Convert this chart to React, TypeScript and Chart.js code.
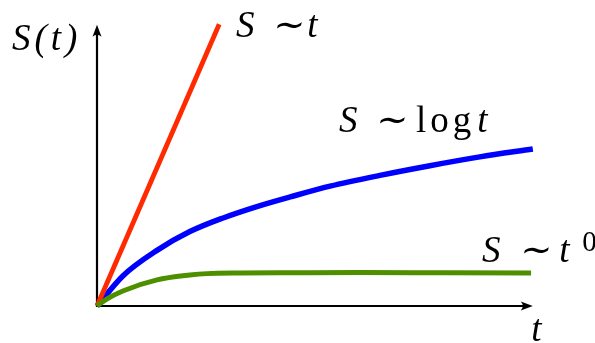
import { useEffect, useRef } from 'react';
import { Chart, registerables } from 'chart.js';

Chart.register(...registerables);

// ---- data (t in 0..100, S in 0..100) ----
const linearT = [0, 27.9];
const linearS = [0, 99.2];

const logT = [0, 5.9, 13.7, 21.2, 28.8, 36.5, 44.1, 53.2, 64.6, 76.0, 87.4, 99.5];
const logS = [0, 10.6, 19.6, 26.2, 31.0, 35.0, 38.4, 42.2, 46.0, 49.4, 52.5, 55.3];

const constT = [0, 2.3, 5.9, 13.7, 21.2, 25.1, 33.0, 44.1, 60.0, 80.0, 99.1];
const constS = [0, 2.5, 5.3, 9.2, 10.9, 11.4, 11.6, 11.7, 11.8, 11.7, 11.6];

const AXIS_T_END = 99.5;
const AXIS_S_END = 99.0;

const toPoints = (xs: number[], ys: number[]) => xs.map((x, i) => ({ x, y: ys[i] }));

type Part = { text: string; x: number; italic?: boolean; size?: number; dy?: number; ls?: number };
type Label = { baseline: number; parts: Part[] };

const LABELS: Label[] = [
  { baseline: 50, parts: [{ text: 'S(t)', x: 12, italic: true, ls: 4 }] },
  {
    baseline: 37,
    parts: [
      { text: 'S \u223C', x: 236, italic: true, ls: 3.5 },
      { text: ' t', x: 298, italic: true },
    ],
  },
  {
    baseline: 132,
    parts: [
      { text: 'S \u223C', x: 339, italic: true, ls: 3.5 },
      { text: 'log', x: 416, ls: 4 },
      { text: ' t', x: 468, italic: true },
    ],
  },
  {
    baseline: 262,
    parts: [
      { text: 'S \u223C', x: 482, italic: true, ls: 4 },
      { text: ' t', x: 550, italic: true },
      { text: ' 0', x: 575, size: 29, dy: -11 },
    ],
  },
  { baseline: 341, parts: [{ text: ' t', x: 522, italic: true }] },
];

function drawArrowHead(ctx: CanvasRenderingContext2D, tx: number, ty: number, angle: number) {
  ctx.save();
  ctx.translate(tx, ty);
  ctx.rotate(angle);
  ctx.beginPath();
  ctx.moveTo(0, 0);
  ctx.lineTo(-12, -4.5);
  ctx.quadraticCurveTo(-8, 0, -12, 4.5);
  ctx.closePath();
  ctx.fill();
  ctx.restore();
}

const axesPlugin = {
  id: 'arrowAxes',
  beforeDatasetsDraw(chart: any) {
    const { ctx, scales } = chart;
    const xs = scales.x;
    const ys = scales.y;
    const ox = xs.getPixelForValue(0);
    const oy = ys.getPixelForValue(0);
    const xt = xs.getPixelForValue(AXIS_T_END);
    const yt = ys.getPixelForValue(AXIS_S_END);
    ctx.save();
    ctx.strokeStyle = '#000';
    ctx.fillStyle = '#000';
    ctx.lineWidth = 2.2;
    ctx.lineCap = 'butt';
    ctx.beginPath();
    ctx.moveTo(ox, oy + 1.1);
    ctx.lineTo(ox, yt + 8);
    ctx.moveTo(ox - 1.1, oy);
    ctx.lineTo(xt - 8, oy);
    ctx.stroke();
    drawArrowHead(ctx, ox, yt, -Math.PI / 2);
    drawArrowHead(ctx, xt, oy, 0);
    ctx.restore();
  },
};

export default function App() {
  const ref = useRef<HTMLCanvasElement>(null);
  const textRef = useRef<HTMLCanvasElement>(null);
  useEffect(() => {
    // labels on a plain overlay canvas
    const tc = textRef.current;
    if (tc) {
      const tctx = tc.getContext('2d') as any;
      tctx.clearRect(0, 0, 595, 343);
      tctx.fillStyle = '#000';
      for (const label of LABELS) {
        for (const p of label.parts) {
          const size = p.size || 37;
          tctx.font = p.italic ? `italic ${size}px "Liberation Serif"` : `${size}px "Liberation Serif"`;
          tctx.letterSpacing = `${p.ls || 0}px`;
          tctx.fillText(p.text, p.x, label.baseline + (p.dy || 0));
        }
      }
      tctx.letterSpacing = '0px';
    }
    if (!ref.current) return;
    const chart = new Chart(ref.current, {
      type: 'line',
      data: {
        datasets: [
          {
            label: 'S ~ t^0',
            data: toPoints(constT, constS),
            borderColor: '#4e8f00',
            borderWidth: 5,
            cubicInterpolationMode: 'monotone',
            pointRadius: 0,
            borderCapStyle: 'butt',
            clip: false as any,
          },
          {
            label: 'S ~ t',
            data: toPoints(linearT, linearS),
            borderColor: '#ff2a00',
            borderWidth: 4.8,
            pointRadius: 0,
            borderCapStyle: 'butt',
            clip: false as any,
          },
          {
            label: 'S ~ log t',
            data: toPoints(logT, logS),
            borderColor: '#0000ff',
            borderWidth: 5.5,
            cubicInterpolationMode: 'monotone',
            pointRadius: 0,
            borderCapStyle: 'butt',
            clip: false as any,
          },
        ],
      },
      options: {
        responsive: false,
        animation: false,
        parsing: false as any,
        layout: { padding: { left: 97, right: 60, top: 22, bottom: 37 } },
        scales: {
          x: { type: 'linear', min: 0, max: 100, display: false },
          y: { type: 'linear', min: 0, max: 100, display: false },
        },
        plugins: { legend: { display: false }, tooltip: { enabled: false } },
        events: [],
      },
      plugins: [axesPlugin],
    });
    return () => chart.destroy();
  }, []);
  return (
    <div style={{ position: 'absolute', left: 0, top: 0 }}>
      <canvas ref={ref} width={595} height={343} style={{ display: 'block', background: '#fff' }} />
      <canvas ref={textRef} width={595} height={343} style={{ position: 'absolute', left: 0, top: 0 }} />
    </div>
  );
}
